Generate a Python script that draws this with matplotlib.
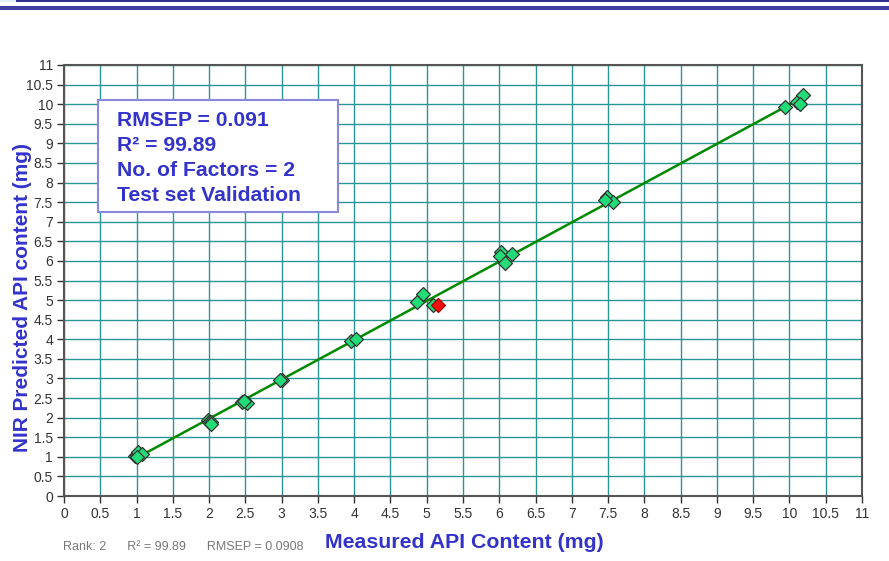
import matplotlib.pyplot as plt
import numpy as np
from matplotlib.patches import Rectangle

# test set points (measured vs NIR predicted)
measured = [0.98, 1.0, 1.02, 1.07, 1.0,
            1.98, 2.0, 2.03, 2.02,
            2.45, 2.52, 2.48,
            3.0, 2.98,
            3.95, 4.03,
            4.87, 4.95, 5.09,
            6.03, 6.01, 6.17, 6.08,
            7.49, 7.57, 7.46,
            9.94, 10.11, 10.19, 10.14]
predicted = [1.02, 1.05, 1.12, 1.08, 1.0,
             1.95, 1.9, 1.88, 1.85,
             2.4, 2.38, 2.42,
             2.97, 2.95,
             3.95, 4.0,
             4.95, 5.15, 4.87,
             6.22, 6.12, 6.17, 5.94,
             7.63, 7.5, 7.55,
             9.92, 10.05, 10.23, 10.0]
# outlier drawn in red
out_x = [5.16]
out_y = [4.87]

ticks = np.arange(0, 11.5, 0.5)
tick_labels = ['0', '0.5', '1', '1.5', '2', '2.5', '3', '3.5', '4', '4.5', '5', '5.5',
               '6', '6.5', '7', '7.5', '8', '8.5', '9', '9.5', '10', '10.5', '11']

stats_lines = ['RMSEP = 0.091', 'R² = 99.89', 'No. of Factors = 2', 'Test set Validation']
footer_text = 'Rank: 2      R² = 99.89      RMSEP = 0.0908'

blue = '#3333cc'
W, H = 889.0, 561.0
plt.rcParams['font.family'] = ['Liberation Sans', 'DejaVu Sans']
narrow = ['Liberation Sans Narrow', 'Liberation Sans', 'DejaVu Sans']


def fx(px):
    return px / W


def fy(py):
    return 1 - py / H


fig = plt.figure(figsize=(W / 100, H / 100), dpi=100)

# header lines
fig.patches.append(Rectangle((0, fy(1.8)), fx(16), 1.8 / H, transform=fig.transFigure,
                             facecolor='#e2f0fa', edgecolor='none'))
fig.patches.append(Rectangle((fx(16), fy(1.8)), 1, 1.8 / H, transform=fig.transFigure,
                             facecolor='#303090', edgecolor='none'))
fig.patches.append(Rectangle((0, fy(9.5)), 1, 3.5 / H, transform=fig.transFigure,
                             facecolor='#4040a4', edgecolor='none'))

ax = fig.add_axes([fx(64), fy(496), 798 / W, 431 / H])
ax.set_xlim(0, 11)
ax.set_ylim(0, 11)
ax.set_xticks(ticks)
ax.set_yticks(ticks)
ax.set_xticklabels(tick_labels, fontsize=10, color='#333333', family=narrow)
ax.set_yticklabels(tick_labels, fontsize=10, color='#333333', family=narrow)
ax.tick_params(direction='out', length=5, color='#333333', width=1, pad=3)
ax.grid(True, color='#2a9595', linewidth=1.0)
ax.set_axisbelow(True)
for s in ax.spines.values():
    s.set_color('#555555')
    s.set_linewidth(1.5)

# fitted line through the test set
allx = np.array(measured + out_x)
ally = np.array(predicted + out_y)
k, b = np.polyfit(allx, ally, 1)
lx = np.array([allx.min(), allx.max()])
ax.plot(lx, k * lx + b, color='#008a00', linewidth=1.8, zorder=3)

ax.plot(measured, predicted, 'D', markersize=7.5, markerfacecolor='#22dd77',
        markeredgecolor='#333333', markeredgewidth=0.9, zorder=4)
ax.plot(out_x, out_y, 'D', markersize=7.5, markerfacecolor='#ee1111',
        markeredgecolor='#aa0000', markeredgewidth=0.9, zorder=4)

# statistics box
fig.patches.append(Rectangle((fx(98), fy(212)), 240 / W, 112 / H, transform=fig.transFigure,
                             facecolor='white', edgecolor='#8888dd', linewidth=1.5, zorder=5))
for i, line in enumerate(stats_lines):
    fig.text(fx(117), fy(120 + 25 * i), line, fontsize=15.2, fontweight='bold', color=blue,
             ha='left', va='center', zorder=6)

fig.text(fx(23), fy(297), 'NIR Predicted API content (mg)', fontsize=15, fontweight='bold',
         color=blue, rotation=90, ha='center', va='center')
fig.text(fx(464), fy(543), 'Measured API Content (mg)', fontsize=15.3, fontweight='bold',
         color=blue, ha='center', va='center')
fig.text(fx(63), fy(547), footer_text, fontsize=9, color='#777777',
         family=narrow, ha='left', va='center')

fig.savefig('out.png', dpi=100)
